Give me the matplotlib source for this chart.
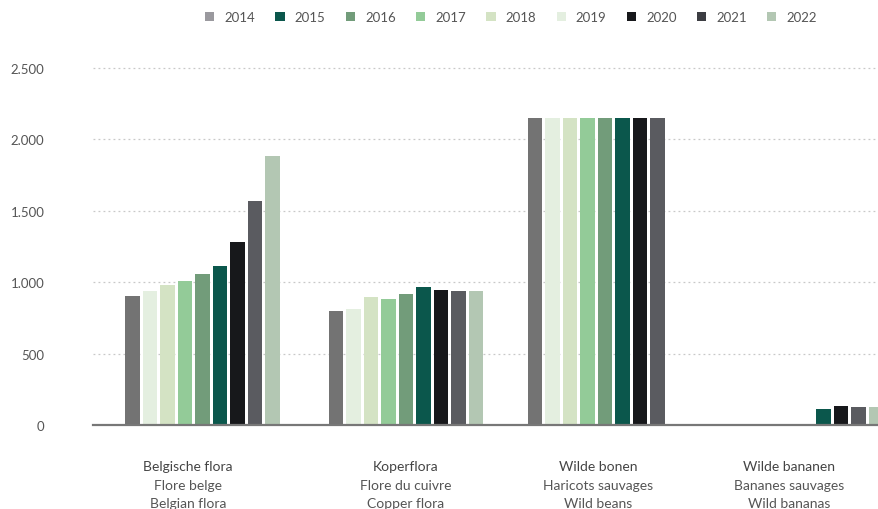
import matplotlib
matplotlib.use("Agg")
import matplotlib.pyplot as plt
from matplotlib.patches import Patch
from matplotlib.ticker import FuncFormatter

plt.rcParams['font.family'] = ['Lato', 'DejaVu Sans']

# Data
years = ['2014', '2015', '2016', '2017', '2018', '2019', '2020', '2021', '2022']
categories = [
    ('Belgische flora', 'Flore belge', 'Belgian flora'),
    ('Koperflora', 'Flore du cuivre', 'Copper flora'),
    ('Wilde bonen', 'Haricots sauvages', 'Wild beans'),
    ('Wilde bananen', 'Bananes sauvages', 'Wild bananas'),
]
values = {
    '2014': [900, 800, 2150, 0],
    '2015': [1110, 968, 2150, 112],
    '2016': [1055, 915, 2150, 0],
    '2017': [1010, 884, 2150, 0],
    '2018': [980, 898, 2150, 0],
    '2019': [940, 812, 2150, 0],
    '2020': [1280, 945, 2150, 133],
    '2021': [1566, 938, 2150, 126],
    '2022': [1883, 938, 0, 126],
}

# Styling
bar_colors = {
    '2014': '#737373', '2015': '#0b574c', '2016': '#729c7a',
    '2017': '#93cb98', '2018': '#d4e3c4', '2019': '#e4efe0',
    '2020': '#17181b', '2021': '#5a5b60', '2022': '#b3c7b3',
}
legend_colors = {
    '2014': '#9a999e', '2015': '#0b574c', '2016': '#729c7a',
    '2017': '#93cb98', '2018': '#d4e3c4', '2019': '#e4efe0',
    '2020': '#17181b', '2021': '#3c3d42', '2022': '#b3c7b3',
}
slot = {'2014': 0, '2019': 1, '2018': 2, '2017': 3, '2016': 4,
        '2015': 5, '2020': 6, '2021': 7, '2022': 8}

W, H = 879, 510
fig = plt.figure(figsize=(W / 100, H / 100), dpi=100)
ax = fig.add_axes([93 / W, 1 - 426 / H, 1 - 93 / W, (426 - 69) / H])

pitch = 0.0875
width = 0.071
group_centers = [0.5475, 1.565, 2.56, 3.565]

for y in years:
    xs = [gc + (slot[y] - 4) * pitch for gc in group_centers]
    vals = values[y]
    xs_k = [x for x, v in zip(xs, vals) if v > 0]
    vs_k = [v for v in vals if v > 0]
    ax.bar(xs_k, vs_k, width=width, color=bar_colors[y], zorder=3,
           clip_on=True)

ax.set_xlim(0, (W - 93) / 200)
ax.set_ylim(0, 2500)

ticks = [0, 500, 1000, 1500, 2000, 2500]
ax.set_yticks(ticks)
ax.yaxis.set_major_formatter(FuncFormatter(lambda v, p: f"{int(v):,}".replace(",", ".")))
ax.tick_params(axis='y', length=0, pad=35, labelsize=9.5, labelcolor='#555555')
ax.tick_params(axis='x', length=0, labelbottom=False)

for t in ticks[1:]:
    ax.axhline(t, color='#c8c8c8', lw=0.9, ls=(0, (1.5, 2.5)), zorder=1,
               clip_on=False)
ax.axhline(0, color='#777777', lw=1.6, zorder=4, clip_on=False)

for s in ax.spines.values():
    s.set_visible(False)

# Category labels
label_px = [188, 406, 598, 789]
line_y = [467, 486, 504]
for px, names in zip(label_px, categories):
    for i, (name, ly) in enumerate(zip(names, line_y)):
        fig.text(px / W, 1 - ly / H, name, ha='center', va='center',
                 fontsize=10, color='#444444' if i == 0 else '#555555')

handles = [Patch(facecolor=legend_colors[y], edgecolor='none') for y in years]
fig.legend(handles, years, loc='center', bbox_to_anchor=(511 / W, 1 - 18 / H),
           ncol=9, frameon=False, fontsize=9.5, handlelength=0.7,
           handleheight=0.7, handletextpad=0.75, columnspacing=1.55,
           labelcolor='#555555')

fig.savefig('out.png', dpi=100)
